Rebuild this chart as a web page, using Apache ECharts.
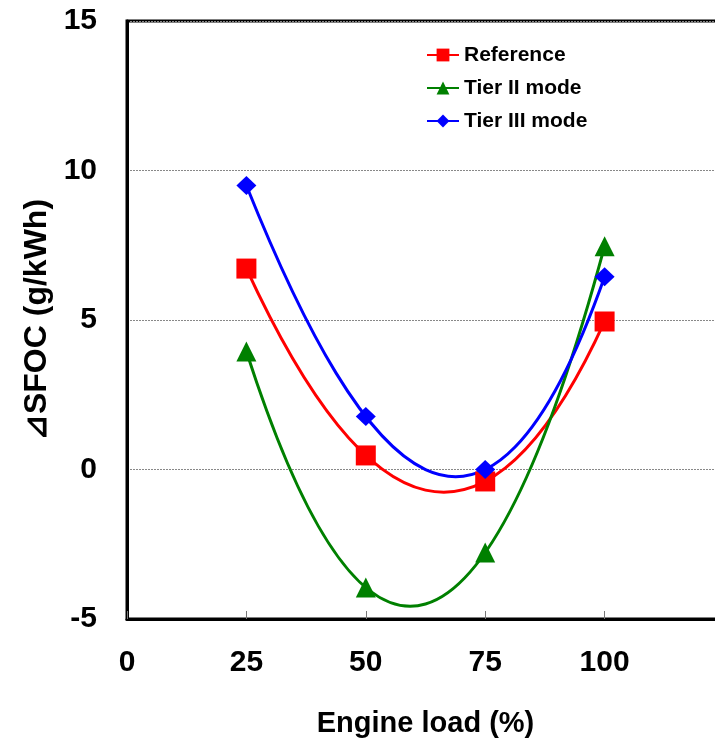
<!DOCTYPE html>
<html>
<head>
<meta charset="utf-8">
<title>SFOC vs engine load</title>
<script src="https://cdn.jsdelivr.net/npm/echarts@6/dist/echarts.min.js"></script>
<style>
    html, body { margin: 0; padding: 0; background: #fff; }
    #echarts-sfoc-chart { width: 715px; height: 743px; }
</style>
</head>
<body>
<div id="echarts-sfoc-chart"></div>
<script>
var loads = [25, 50, 75, 100];
var referenceVals = [6.72, 0.47, -0.4, 4.95];
var tier2Vals = [3.95, -3.95, -2.78, 7.47];
var tier3Vals = [9.5, 1.77, 0.0, 6.45];
var xTicks = [0, 25, 50, 75, 100];
var yTicks = [-5, 0, 5, 10, 15];

var fontName = 'Arial, "Liberation Sans", sans-serif';
var colors = { ref: '#ff0000', t2: '#008000', t3: '#0000ff' };

function pairs(vals) {
    return loads.map(function (x, i) { return [x, vals[i]]; });
}

// cubic trendline through the 4 measured points (equally spaced loads),
// drawn as one bezier whose control points are mapped with api.coord
function trendRenderer(vals, color) {
    return function (params, api) {
        if (params.dataIndex !== 0) return;
        var y0 = vals[0], y1 = vals[1], y2 = vals[2], y3 = vals[3];
        var b1 = (-5 * y0 + 18 * y1 - 9 * y2 + 2 * y3) / 6;
        var b2 = (2 * y0 - 9 * y1 + 18 * y2 - 5 * y3) / 6;
        var p0 = api.coord([loads[0], y0]);
        var c1 = api.coord([loads[1], b1]);
        var c2 = api.coord([loads[2], b2]);
        var p3 = api.coord([loads[3], y3]);
        return {
            type: 'bezierCurve',
            shape: {
                x1: p0[0], y1: p0[1],
                cpx1: c1[0], cpy1: c1[1],
                cpx2: c2[0], cpy2: c2[1],
                x2: p3[0], y2: p3[1]
            },
            style: { stroke: color, lineWidth: 3, fill: null }
        };
    };
}

function markerSeries(name, vals, symbol, size, color, z) {
    return {
        name: name,
        type: 'line',
        symbol: symbol,
        symbolSize: size,
        itemStyle: { color: color },
        lineStyle: { color: color, width: 0, opacity: 0 },
        data: pairs(vals),
        z: z
    };
}

function curveSeries(name, vals, color, z) {
    return {
        name: name,
        type: 'custom',
        renderItem: trendRenderer(vals, color),
        encode: { x: 0, y: 1 },
        data: pairs(vals),
        z: z
    };
}

var sfocChart = echarts.init(document.getElementById("echarts-sfoc-chart"));
var sfocOption = {
    animation: false,
    backgroundColor: '#fff',
    grid: {
        left: 127,
        top: 21,
        width: 597,
        height: 598,
        outerBoundsMode: 'none',
        containLabel: false,
        show: true,
        borderColor: '#000',
        borderWidth: 3
    },
    legend: {
        orient: 'vertical',
        left: 421,
        top: 39,
        itemWidth: 32,
        itemHeight: 16,
        itemGap: 11,
        textStyle: {
            color: '#000',
            fontFamily: fontName,
            fontWeight: 'bold',
            fontSize: 21,
            lineHeight: 22
        },
        data: [
            { name: 'Reference', lineStyle: { color: colors.ref, width: 2, opacity: 1 } },
            { name: 'Tier II mode', lineStyle: { color: colors.t2, width: 2, opacity: 1 } },
            { name: 'Tier III mode', lineStyle: { color: colors.t3, width: 2, opacity: 1 } }
        ]
    },
    xAxis: {
        type: 'value',
        min: 0,
        max: 125,
        interval: 25,
        name: 'Engine load (%)',
        nameLocation: 'middle',
        nameGap: 90,
        nameTextStyle: {
            color: '#000',
            fontFamily: fontName,
            fontWeight: 'bold',
            fontSize: 29
        },
        axisLine: { show: true, onZero: false, lineStyle: { color: '#000', width: 3 } },
        axisTick: { show: true, inside: true, length: 8, lineStyle: { color: '#777', width: 1 } },
        splitLine: { show: false },
        axisLabel: {
            margin: 29,
            color: '#000',
            fontFamily: fontName,
            fontWeight: 'bold',
            fontSize: 30,
            formatter: function (v) { return xTicks.indexOf(v) >= 0 ? String(v) : ''; }
        }
    },
    yAxis: {
        type: 'value',
        min: -5,
        max: 15,
        interval: 5,
        name: '⊿SFOC (g/kWh)',
        nameLocation: 'middle',
        nameGap: 66,
        nameTextStyle: {
            color: '#000',
            fontFamily: fontName,
            fontWeight: 'bold',
            fontSize: 32
        },
        axisLine: { show: true, onZero: false, lineStyle: { color: '#000', width: 3 } },
        axisTick: { show: false },
        splitLine: { show: true, lineStyle: { color: '#888', width: 1, type: [2, 1] } },
        axisLabel: {
            margin: 30,
            color: '#000',
            fontFamily: fontName,
            fontWeight: 'bold',
            fontSize: 30,
            formatter: function (v) { return yTicks.indexOf(v) >= 0 ? String(v) : ''; }
        }
    },
    series: [
        markerSeries('Reference', referenceVals, 'rect', 20, colors.ref, 6),
        markerSeries('Tier II mode', tier2Vals, 'triangle', 20, colors.t2, 7),
        markerSeries('Tier III mode', tier3Vals, 'diamond', [20, 19], colors.t3, 8),
        curveSeries('Reference', referenceVals, colors.ref, 3),
        curveSeries('Tier II mode', tier2Vals, colors.t2, 4),
        curveSeries('Tier III mode', tier3Vals, colors.t3, 5)
    ]
};
sfocChart.setOption(sfocOption);
window.addEventListener('resize', sfocChart.resize);
</script>
</body>
</html>
